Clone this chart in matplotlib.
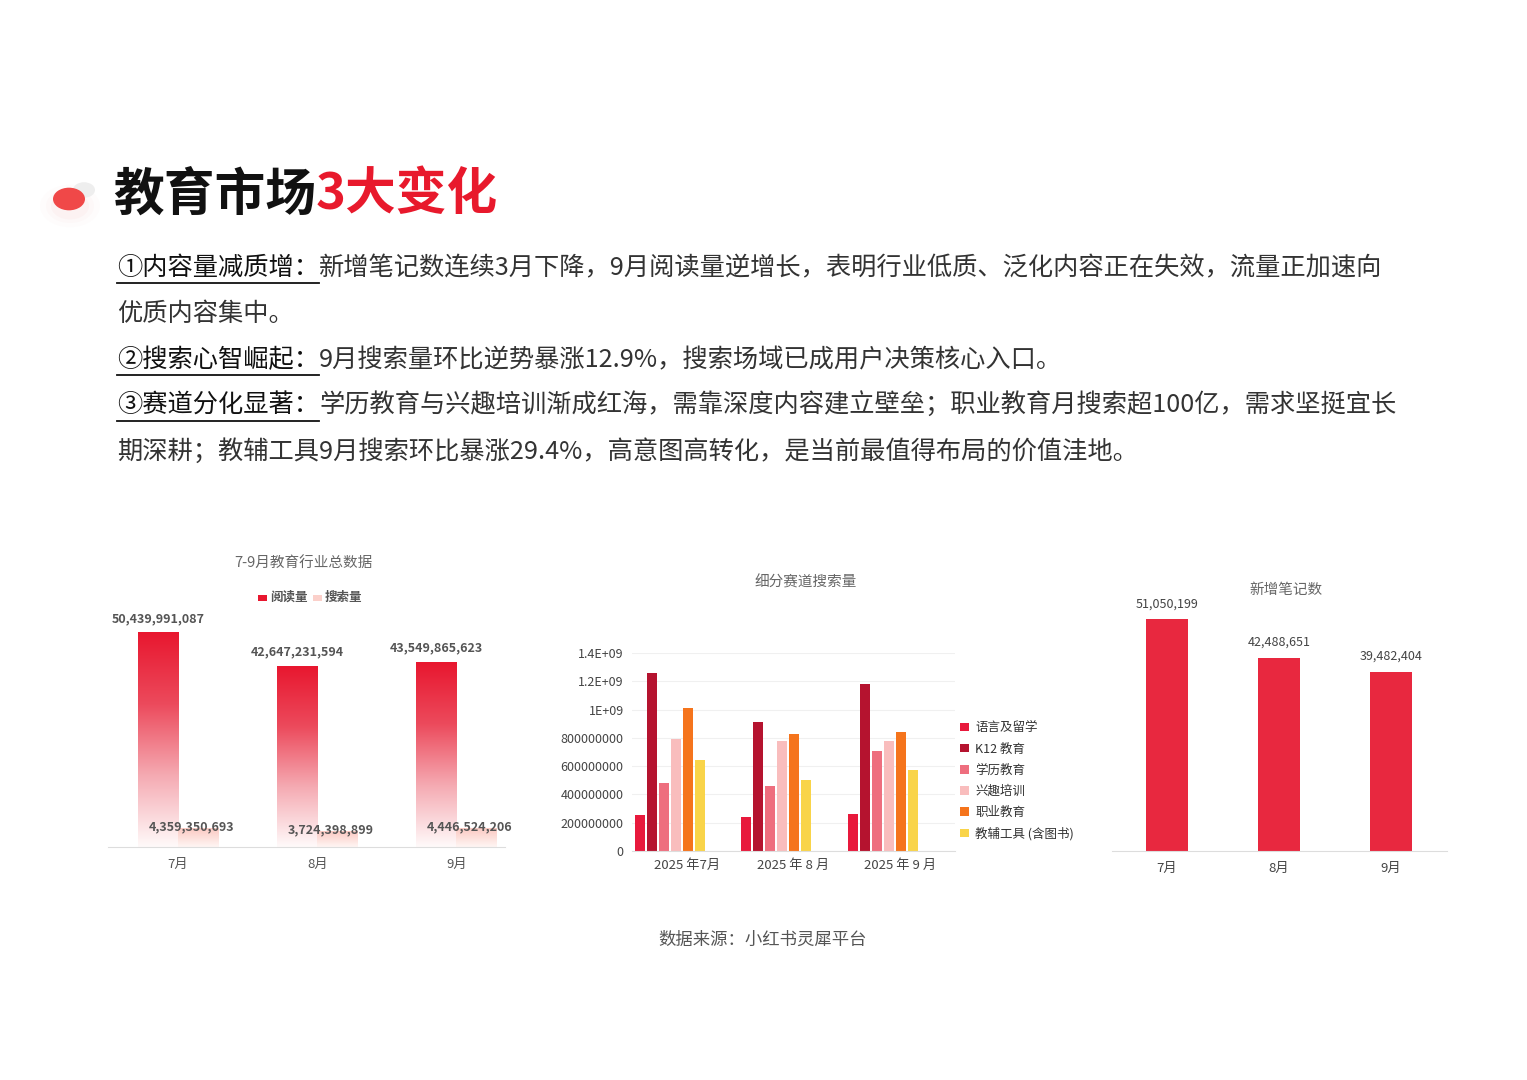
import numpy as np
import matplotlib
matplotlib.use('Agg')
import matplotlib.pyplot as plt
from matplotlib.colors import LinearSegmentedColormap
from matplotlib.patches import Circle

plt.rcParams['font.family'] = ['Noto Sans CJK SC', 'DejaVu Sans']

# data
months = ['7月', '8月', '9月']
reads = [50439991087, 42647231594, 43549865623]
searches = [4359350693, 3724398899, 4446524206]

seg_months = ['2025 年7月', '2025 年 8 月', '2025 年 9 月']
seg_names = ['语言及留学', 'K12 教育', '学历教育', '兴趣培训', '职业教育', '教辅工具 (含图书)']
seg_vals = [
    [0.255e9, 0.24e9, 0.26e9],
    [1.26e9, 0.91e9, 1.18e9],
    [0.48e9, 0.46e9, 0.71e9],
    [0.79e9, 0.78e9, 0.78e9],
    [1.01e9, 0.83e9, 0.84e9],
    [0.64e9, 0.50e9, 0.57e9],
]
seg_colors = ['#E8193C', '#B5132F', '#EE6E7E', '#F9BDBD', '#F5741C', '#F9D449']

notes = [51050199, 42488651, 39482404]

W, H = 1527, 1080
fig = plt.figure(figsize=(W / 100, H / 100), dpi=100)
fig.patch.set_facecolor('white')

def fx(x): return x / W
def fy(y): return 1 - y / H

# header
for r, a in [(30, 0.03), (24, 0.05), (19, 0.08)]:
    fig.patches.append(Circle((fx(70), fy(206)), r / W, transform=fig.transFigure,
                              facecolor='#f3b0b0', alpha=a, edgecolor='none'))
fig.patches.append(Circle((fx(84), fy(190)), 11 / W, transform=fig.transFigure,
                          facecolor='#eeeeee', edgecolor='none'))
fig.patches.append(Circle((fx(69), fy(199)), 16 / W, transform=fig.transFigure,
                          facecolor='#f04848', edgecolor='none'))
t1 = fig.text(fx(113), fy(195), '教育市场', fontsize=36.5, fontweight='bold', color='#111111', va='center')
fig.canvas.draw()
r = fig.canvas.get_renderer()
bb = t1.get_window_extent(r)
fig.text(bb.x1 / W, fy(195), '3大变化', fontsize=36.5, fontweight='bold', color='#e8192c', va='center')

lines = [
    (268, '①内容量减质增：', '新增笔记数连续3月下降，9月阅读量逆增长，表明行业低质、泛化内容正在失效，流量正加速向'),
    (314, '', '优质内容集中。'),
    (360, '②搜索心智崛起：', '9月搜索量环比逆势暴涨12.9%，搜索场域已成用户决策核心入口。'),
    (406, '③赛道分化显著：', '学历教育与兴趣培训渐成红海，需靠深度内容建立壁垒；职业教育月搜索超100亿，需求坚挺宜长'),
    (452, '', '期深耕；教辅工具9月搜索环比暴涨29.4%，高意图高转化，是当前最值得布局的价值洼地。'),
]
for y, head, body in lines:
    x = 117
    if head:
        th = fig.text(fx(x), fy(y), head, fontsize=18.2, color='#111111', va='center')
        b = th.get_window_extent(r)
        fig.add_artist(plt.Line2D([fx(x), b.x1 / W], [fy(y + 15), fy(y + 15)],
                                  transform=fig.transFigure, color='#111111', lw=1.3))
        x = b.x1
    fig.text(fx(x), fy(y), body, fontsize=18.2, color='#333333', va='center', fontweight='light')

# chart 1
ax1 = fig.add_axes([fx(108), fy(847), fx(505 - 108), (847 - 600) / H])
ylim1 = reads[0] * (847 - 600) / (847 - 633)
xs = np.arange(3)
bw = 0.29
cm_read = LinearSegmentedColormap.from_list('r', ['#fffafa', '#f5aab2', '#ec4a5c', '#e8172f'])
cm_search = LinearSegmentedColormap.from_list('s', ['#fff6f4', '#fbc9c2'])
grad = np.linspace(0, 1, 256).reshape(-1, 1)
for i in range(3):
    ax1.imshow(grad, cmap=cm_read, origin='lower', aspect='auto',
               extent=(xs[i] - bw, xs[i], 0, reads[i]))
    ax1.imshow(grad, cmap=cm_search, origin='lower', aspect='auto',
               extent=(xs[i], xs[i] + bw, 0, searches[i]))
    ax1.text(xs[i] - bw / 2, reads[i] + ylim1 * 0.03, f'{reads[i]:,}', ha='center', va='bottom',
             fontsize=9, color='#555555', fontweight='bold')
    ax1.text(xs[i] + bw / 2 - 0.05, searches[i] + ylim1 * 0.005, f'{searches[i]:,}', ha='center',
             va='center', fontsize=9, color='#555555', fontweight='bold')
ax1.set_xlim(-0.504, 2.35)
ax1.set_ylim(0, ylim1)
ax1.set_xticks(xs)
ax1.set_xticklabels(months, fontsize=9.5, color='#555555')
ax1.tick_params(length=0, pad=8)
ax1.set_yticks([])
for s in ['top', 'right', 'left']:
    ax1.spines[s].set_visible(False)
ax1.spines['bottom'].set_color('#dddddd')
fig.text(fx(303), fy(563), '7-9月教育行业总数据', fontsize=10.5, color='#666666', ha='center', va='center')
fig.patches.append(plt.Rectangle((fx(258), fy(601)), 9 / W, 6 / H, transform=fig.transFigure,
                                 facecolor='#e8172f', edgecolor='none'))
fig.text(fx(270), fy(597), '阅读量', fontsize=9, color='#555555', va='center', fontweight='bold')
fig.patches.append(plt.Rectangle((fx(313), fy(601)), 9 / W, 6 / H, transform=fig.transFigure,
                                 facecolor='#fbd0ca', edgecolor='none'))
fig.text(fx(325), fy(597), '搜索量', fontsize=9, color='#555555', va='center', fontweight='bold')

# chart 2
ax2 = fig.add_axes([fx(632), fy(851), fx(955 - 632), (851 - 653) / H])
step = 0.113
w2 = 0.094
for k in range(6):
    ax2.bar(xs + (k - 2.5) * step, seg_vals[k], width=w2, color=seg_colors[k], label=seg_names[k])
ax2.set_xlim(-0.357, 2.68)
ax2.set_ylim(0, 1.4e9)
yt = np.arange(0, 1.41e9, 2e8)
ax2.set_yticks(yt)
ax2.set_yticklabels(['0', '200000000', '400000000', '600000000', '800000000', '1E+09', '1.2E+09', '1.4E+09'],
                    fontsize=9, color='#444444')
ax2.set_xticks(xs + 0.16)
ax2.set_xticklabels(seg_months, fontsize=9.5, color='#444444')
ax2.tick_params(length=0, pad=6)
ax2.grid(axis='y', color='#f0f0f0', lw=0.8)
ax2.set_axisbelow(True)
for s in ['top', 'right', 'left']:
    ax2.spines[s].set_visible(False)
ax2.spines['bottom'].set_color('#dddddd')
ax2.legend(loc='upper left', bbox_to_anchor=(1.0, 0.68),
           frameon=False, fontsize=9, handlelength=0.7, handleheight=0.7, handletextpad=0.5,
           labelspacing=0.65, borderaxespad=0, labelcolor='#333333')
fig.text(fx(806), fy(582), '细分赛道搜索量', fontsize=10.5, color='#666666', ha='center', va='center')

# chart 3
ax3 = fig.add_axes([fx(1112), fy(851), fx(1447 - 1112), (851 - 600) / H])
ylim3 = notes[0] * (851 - 600) / (851 - 619)
ax3.bar(xs, notes, width=0.375, color='#e8283f')
for i in range(3):
    ax3.text(xs[i], notes[i] + ylim3 * 0.035, f'{notes[i]:,}', ha='center', va='bottom',
             fontsize=9, color='#444444')
ax3.set_xlim(-0.49, 2.5)
ax3.set_ylim(0, ylim3)
ax3.set_xticks(xs)
ax3.set_xticklabels(months, fontsize=9.5, color='#444444')
ax3.tick_params(length=0, pad=8)
ax3.set_yticks([])
for s in ['top', 'right', 'left']:
    ax3.spines[s].set_visible(False)
ax3.spines['bottom'].set_color('#dddddd')
fig.text(fx(1286), fy(590), '新增笔记数', fontsize=10.5, color='#666666', ha='center', va='center')

fig.text(fx(763), fy(940), '数据来源：小红书灵犀平台', fontsize=12.5, color='#555555', ha='center', va='center')

fig.savefig('out.png', dpi=100)
